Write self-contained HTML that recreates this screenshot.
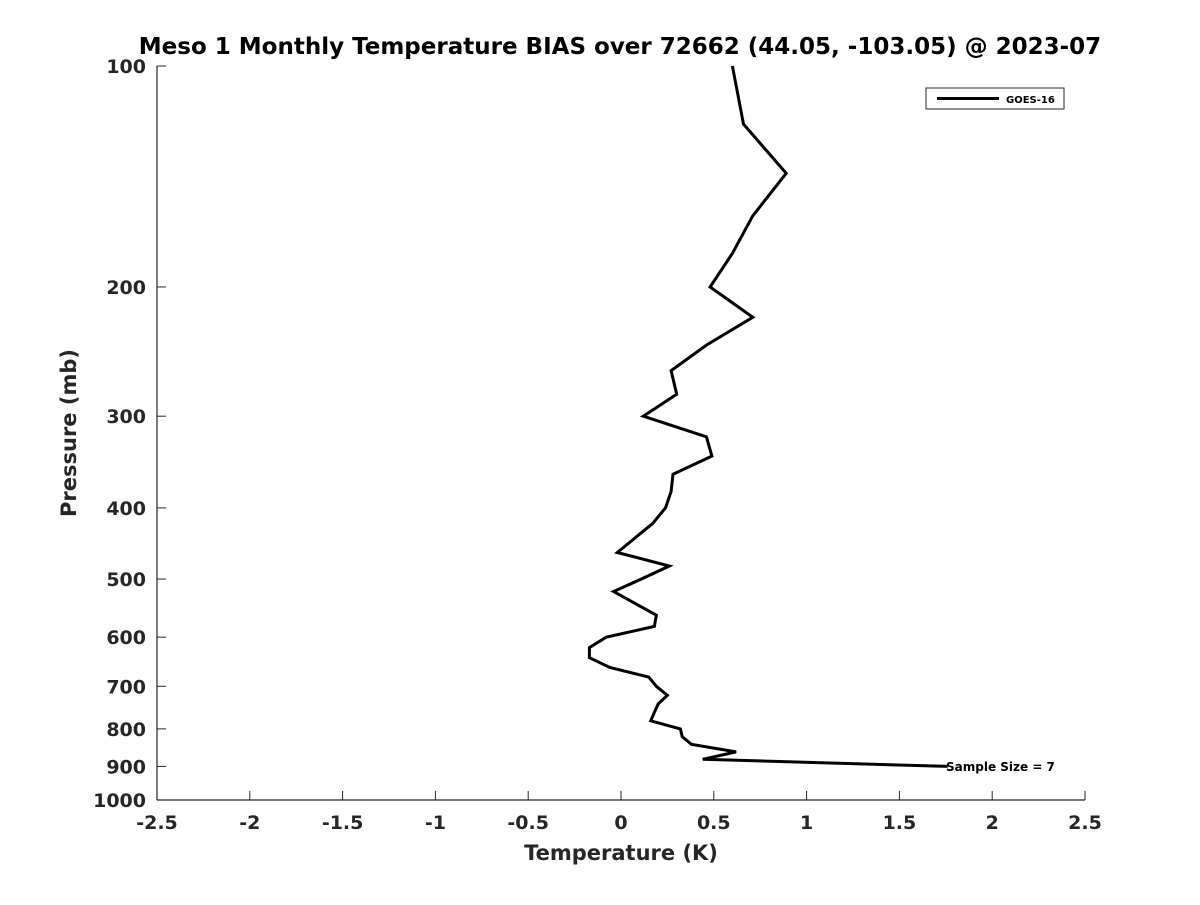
<!DOCTYPE html>
<html><head><meta charset="utf-8"><style>
html,body{margin:0;padding:0;background:#fff;}
svg text{font-family:"DejaVu Sans","Liberation Sans",sans-serif;font-weight:bold;fill:#262626;}
</style></head><body>
<svg id="chart" width="1200" height="900" xmlns="http://www.w3.org/2000/svg">
<rect width="1200" height="900" fill="#fff"/>
<text x="620" y="54" font-size="23" text-anchor="middle" style="fill:#000">Meso 1 Monthly Temperature BIAS over 72662 (44.05, -103.05) @ 2023-07</text>
<g id="xaxis"></g>
<g id="yaxis"></g>
<text x="621" y="860" font-size="21" text-anchor="middle">Temperature (K)</text>
<text transform="translate(76,433) rotate(-90)" font-size="21" text-anchor="middle">Pressure (mb)</text>
<g id="series"></g>
<text x="946" y="771" font-size="12" style="fill:#000">Sample Size = 7</text>
<g>
<rect x="926" y="88" width="138" height="21" fill="#fff" stroke="#262626" stroke-width="1"/>
<line x1="937" y1="98.5" x2="999" y2="98.5" stroke="#000" stroke-width="3"/>
<text x="1006" y="103" font-size="10" style="fill:#000">GOES-16</text>
</g>
</svg>
<script>
const xTicks = [-2.5,-2,-1.5,-1,-0.5,0,0.5,1,1.5,2,2.5];
const xTickLabels = ["-2.5","-2","-1.5","-1","-0.5","0","0.5","1","1.5","2","2.5"];
const yTicks = [100,200,300,400,500,600,700,800,900,1000];
const yTickLabels = ["100","200","300","400","500","600","700","800","900","1000"];
const pressures = [100,120,140,160,180,200,220,240,260,280,300,320,340,360,380,400,420,460,480,500,520,560,580,600,620,640,660,680,700,720,740,780,800,820,840,860,880,900];
const biases = [0.60,0.66,0.89,0.71,0.60,0.48,0.71,0.46,0.27,0.30,0.12,0.46,0.49,0.28,0.27,0.24,0.17,-0.02,0.26,0.11,-0.04,0.19,0.18,-0.08,-0.17,-0.17,-0.06,0.15,0.19,0.25,0.20,0.16,0.32,0.33,0.38,0.62,0.44,1.76];

const X0=157,X1=1085,Y0=66,Y1=800;
const xs=v=>X0+(v-(-2.5))/5*(X1-X0);
const ys=p=>Y0+(Math.log10(p)-2)/1*(Y1-Y0);
const NS="http://www.w3.org/2000/svg";
function mk(tag,attrs,parent){const e=document.createElementNS(NS,tag);for(const k in attrs)e.setAttribute(k,attrs[k]);parent.appendChild(e);return e;}
const xg=document.getElementById('xaxis'), yg=document.getElementById('yaxis');
const xl=mk('line',{x1:X0,y1:Y1,x2:X1,y2:Y1,stroke:'#262626','stroke-width':1.2},xg);


const yl=mk('line',{x1:X0,y1:Y0,x2:X0,y2:Y1,stroke:'#262626','stroke-width':1.2},yg);


xTicks.forEach((v,i)=>{
  const x=xs(v);
  const t=mk('line',{x1:x,y1:Y1,x2:x,y2:Y1-9,stroke:'#262626','stroke-width':1},xg);
  
  
  const l=mk('text',{x:x,y:829,'font-size':19,'text-anchor':'middle'},xg);
  l.textContent=xTickLabels[i];
  
  
});
yTicks.forEach((p,i)=>{
  const y=ys(p);
  const t=mk('line',{x1:X0,y1:y,x2:X0+9,y2:y,stroke:'#262626','stroke-width':1},yg);
  
  
  const l=mk('text',{x:146,y:y+7,'font-size':19,'text-anchor':'end'},yg);
  l.textContent=yTickLabels[i];
  
  
});
const pts=pressures.map((p,i)=>xs(biases[i]).toFixed(1)+','+ys(p).toFixed(1)).join(' ');
const pl=mk('polyline',{points:pts,fill:'none',stroke:'#000','stroke-width':3,'stroke-linejoin':'miter'},document.getElementById('series'));


</script>
</body></html>
